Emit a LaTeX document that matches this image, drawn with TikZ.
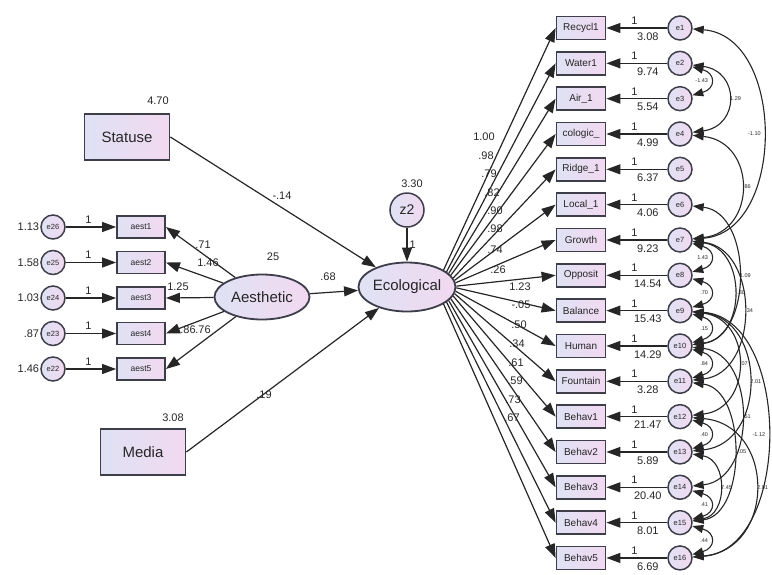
\documentclass[tikz,border=0pt]{standalone}
\usepackage{fontspec}
\setmainfont{Liberation Sans}
\usetikzlibrary{shapes.geometric,arrows.meta,positioning}

\definecolor{boxline}{HTML}{3E3E4A}
\definecolor{fillL}{HTML}{E0E2F4}
\definecolor{fillR}{HTML}{F1D9F1}
\definecolor{ink}{HTML}{262626}

\tikzset{
  obs/.style={rectangle, draw=boxline, line width=1.8pt, left color=fillL, right color=fillR, inner sep=0pt, text=ink},
  ind/.style={obs, minimum width=49pt, minimum height=23pt, font=\fontsize{10}{10}\selectfont},
  big/.style={obs, minimum width=85pt, minimum height=46pt, font=\fontsize{15}{15}\selectfont},
  lat/.style={ellipse, draw=boxline, line width=1.8pt, left color=fillL, right color=fillR, inner sep=0pt, text=ink, font=\fontsize{15}{15}\selectfont},
  err/.style={circle, draw=boxline, line width=1.5pt, left color=fillL, right color=fillR, minimum size=24pt, inner sep=0pt, text=ink, font=\fontsize{7.5}{7.5}\selectfont},
  reg/.style={-{Triangle[length=14pt,width=10pt]}, line width=1.2pt, draw=ink},
  cov/.style={{Triangle[length=11pt,width=8pt]}-{Triangle[length=11pt,width=8pt]}, line width=1.1pt, draw=ink},
  num/.style={font=\fontsize{11}{11}\selectfont, text=ink, inner sep=1pt},
  tiny/.style={font=\fontsize{5.5}{5.5}\selectfont, text=ink, inner sep=0.5pt},
}

\begin{document}
\begin{tikzpicture}[x=1pt,y=-1pt]
\useasboundingbox (0,0) rectangle (772,574);

% exogenous variables
\node[big] (statuse) at (127,137) {Statuse};
\node[big] (media) at (143,452) {Media};
\node[num] (statvar) at (158,101) {4.70};
\node[num] (medvar) at (173,418) {3.08};

% latent variables
\node[lat, minimum width=95pt, minimum height=45pt] (aes) at (262,297) {Aesthetic};
\node[num] (aesvar) at (273,257) {25};
\node[lat, minimum width=97pt, minimum height=49pt] (eco) at (407,287) {Ecological};
\node[err, minimum size=34pt, font=\fontsize{14}{14}\selectfont] (z2) at (407,210) {z2};
\node[num] (z2var) at (412,184) {3.30};
\draw[reg] (z2) -- (eco) node[num, midway, right=1pt] {1};

% structural paths
\draw[reg] (statuse.east) -- (eco);
\draw[reg] (aes) -- (eco);
\draw[reg] (media.east) -- (eco);
\node[num] (b1) at (282,196) {-.14};
\node[num] (b2) at (328,277) {.68};
\node[num] (b3) at (264,395) {.19};

% Aesthetic measurement part
\foreach \i/\e/\v in {1/26/1.13, 2/25/1.58, 3/24/1.03, 4/23/.87, 5/22/1.46} {
  \pgfmathsetmacro\yy{227+35.5*(\i-1)}
  \node[ind, font=\fontsize{8.5}{8.5}\selectfont, minimum width=48pt, minimum height=22pt] (aest\i) at (141,\yy) {aest\i};
  \node[err] (e\e) at (53,\yy) {e\e};
  \node[num, left=0pt of e\e] (ev\e) {\v};
  \draw[reg] (e\e) -- (aest\i) node[num, pos=.45, above=2pt] {1};
  \draw[reg] (aes) -- (aest\i.east);
}
\node[num] (a1) at (203,245) {.71};
\node[num] (a2) at (208,263) {1.46};
\node[num] (a3) at (178,287) {1.25};
\node[num] (a4) at (188,330) {.86};
\node[num] (a5) at (203,330) {.76};

% Ecological indicators and their errors
\foreach \n [count=\i] in {Recycl1, Water1, Air\_1, cologic\_, Ridge\_1, Local\_1, Growth, Opposit, Balance, Human, Fountain, Behav1, Behav2, Behav3, Behav4, Behav5} {
  \pgfmathsetmacro\yy{28+35.33*(\i-1)}
  \node[ind] (v\i) at (581,\yy) {\n};
  \node[err] (e\i) at (680,\yy) {e\i};
}
\foreach \v [count=\i] in {3.08, 9.74, 5.54, 4.99, 6.37, 4.06, 9.23, 14.54, 15.43, 14.29, 3.28, 21.47, 5.89, 20.40, 8.01, 6.69}
  \draw[reg] (e\i) -- (v\i) node[num, pos=.54, above=2pt] {1} node[num, pos=.32, below=3pt] {\v};

% loadings
\foreach \l/\lx/\ly [count=\i] in {1.00/484/137, .98/486/156, .79/489/174, .82/492/193, .90/495/211, .98/495/229, .74/495/250, .26/498/270, 1.23/520/287, -.05/521/305, .50/519/325, .34/517/344, .61/516/363, .59/515/381, .73/513/400, .67/512/418} {
  \pgfmathtruncatemacro\ang{25-(\i-1)*10/3}
  \draw[reg] (eco.\ang) -- (v\i.west);
  \node[num] (ld\i) at (\lx,\ly) {\l};
}

% error covariances, neighbours
\foreach \a/\b/\lab in {2/3/-1.43, 7/8/1.43, 8/9/.70, 9/10/.15, 10/11/.84, 12/13/.40, 14/15/.41, 15/16/.44}
  \draw[cov] (e\a) .. controls +(36,10) and +(36,-10) .. (e\b) node[tiny, midway, left=1pt] {\lab};

% error covariances, long arcs
\foreach \a/\b/\dx/\lab in {2/4/60/1.29, 4/7/77/.86, 6/10/73/1.09, 7/10/67/-.80, 7/11/80/.34, 9/12/73/.07, 9/13/87/2.01, 10/14/77/.51, 11/15/67/1.05, 13/15/48/7.45, 12/16/96/2.01}
  \draw[cov] (e\a) .. controls +(\dx,8) and +(\dx,-8) .. (e\b) node[tiny, midway, right=1pt] {\lab};
\foreach \a/\b/\dx/\lab in {1/7/106/-1.10, 9/16/112/-1.12}
  \draw[cov] (e\a) .. controls +(\dx,8) and +(\dx,-8) .. (e\b) node[tiny, midway, left=1pt] {\lab};
\end{tikzpicture}
\end{document}
